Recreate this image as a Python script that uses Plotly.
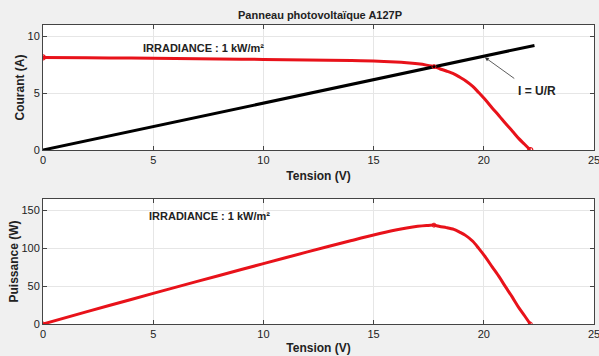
import plotly.graph_objects as go

# Data
tension = [0, 2, 4, 6, 8, 10, 12, 14, 15, 16, 16.5, 17, 17.4, 17.74, 18.0, 18.3, 18.64, 18.9,
           19.17, 19.5, 19.77, 20.1, 20.38, 20.7, 20.98, 21.3, 21.58, 21.85, 22.11]
courant = [8.15, 8.12, 8.09, 8.05, 8.01, 7.97, 7.93, 7.87, 7.83, 7.75, 7.68, 7.58, 7.47, 7.34,
           7.15, 6.95, 6.70, 6.42, 6.10, 5.60, 5.05, 4.35, 3.70, 3.00, 2.35, 1.65, 1.02, 0.5, 0.0]
puissance = [0, 16.3, 32.4, 48.3, 64.1, 79.7, 95.2, 110.2, 117.5, 124.0, 126.7, 128.9, 130.0, 130.5,
             128.7, 127.2, 124.9, 121.3, 117.0, 109.2, 99.8, 87.4, 75.4, 62.1, 49.3, 35.1, 22.0, 10.9, 0]
charge_u = [0, 22.3]
charge_i = [0, 9.2]
mpp_index = 13

RED = "#e8121a"
FONT = "Liberation Sans, Arial, sans-serif"

fig = go.Figure()

# Top: I-V
fig.add_trace(go.Scatter(x=tension, y=courant, mode="lines",
                         line=dict(color=RED, width=3, shape="spline", smoothing=0.8),
                         xaxis="x", yaxis="y", showlegend=False))
fig.add_trace(go.Scatter(x=charge_u, y=charge_i, mode="lines", line=dict(color="black", width=3),
                         xaxis="x", yaxis="y", showlegend=False))
fig.add_trace(go.Scatter(x=[tension[0], tension[-1]], y=[courant[0], courant[-1]], mode="markers",
                         marker=dict(symbol="circle-open", size=5, color=RED, line=dict(width=1.2)),
                         xaxis="x", yaxis="y", showlegend=False))
fig.add_trace(go.Scatter(x=[tension[mpp_index]], y=[courant[mpp_index]], mode="markers",
                         marker=dict(symbol="circle-open", size=4, color=RED, line=dict(width=1)),
                         xaxis="x", yaxis="y", showlegend=False))

# Bottom: P-V
fig.add_trace(go.Scatter(x=tension, y=puissance, mode="lines",
                         line=dict(color=RED, width=3, shape="spline", smoothing=0.8),
                         xaxis="x2", yaxis="y2", showlegend=False))
fig.add_trace(go.Scatter(x=[tension[0], tension[-1], tension[mpp_index]],
                         y=[puissance[0], puissance[-1], puissance[mpp_index]], mode="markers",
                         marker=dict(symbol="circle-open", size=4, color=RED, line=dict(width=1)),
                         xaxis="x2", yaxis="y2", showlegend=False))

axis_common = dict(showline=True, linecolor="#444", linewidth=1, mirror="ticks", ticks="inside",
                   ticklen=4, tickcolor="#444", showgrid=True, gridcolor="#e6e6e6", zeroline=False,
                   automargin=False, ticklabeloverflow="allow",
                   tickfont=dict(family=FONT, size=11, color="#222"),
                   title_font=dict(family=FONT, size=12, color="#222"))

fig.update_layout(
    width=599, height=356,
    paper_bgcolor="#f0f0f0", plot_bgcolor="white",
    margin=dict(l=43, r=5, t=25, b=32),
    font=dict(family=FONT, size=11, color="#222"),
    xaxis=dict(domain=[0, 1], anchor="y", range=[0, 25], dtick=5,
               title=dict(text="<b>Tension (V)</b>", standoff=6), **axis_common),
    yaxis=dict(domain=[0.582, 1], anchor="x", range=[0, 11], tickvals=[0, 5, 10],
               title=dict(text="<b>Courant (A)</b>", standoff=0), **axis_common),
    xaxis2=dict(domain=[0, 1], anchor="y2", range=[0, 25], dtick=5,
                title=dict(text="<b>Tension (V)</b>", standoff=4), **axis_common),
    yaxis2=dict(domain=[0, 0.418], anchor="x2", range=[0, 165], tickvals=[0, 50, 100, 150],
                title=dict(text="<b>Puissance (W)</b>", standoff=0), **axis_common),
    annotations=[
        dict(text="<b>Panneau photovoltaïque A127P</b>", xref="paper", yref="paper", x=0.502, y=1.0,
             yshift=10, showarrow=False, font=dict(family=FONT, size=11, color="#222"),
             xanchor="center", yanchor="middle"),
        dict(text="<b>IRRADIANCE : 1 kW/m²</b>", xref="x", yref="y", x=7.3, y=8.97, showarrow=False,
             font=dict(family=FONT, size=11, color="#222")),
        dict(text="<b>IRRADIANCE : 1 kW/m²</b>", xref="x2", yref="y2", x=7.56, y=142.5, showarrow=False,
             font=dict(family=FONT, size=11, color="#222")),
        dict(text="<b>I = U/R</b>", xref="x", yref="y", x=22.4, y=5.15, showarrow=False,
             font=dict(family=FONT, size=12, color="#222")),
        dict(x=20.05, y=8.15, xref="x", yref="y", ax=21.45, ay=6.2, axref="x", ayref="y",
             text="", showarrow=True, arrowhead=2, arrowsize=1, arrowwidth=0.8, arrowcolor="#333"),
    ],
)

fig.write_html("out.html", config={"displayModeBar": False},
               post_script="document.body.style.margin='0';document.body.style.overflow='hidden';")
